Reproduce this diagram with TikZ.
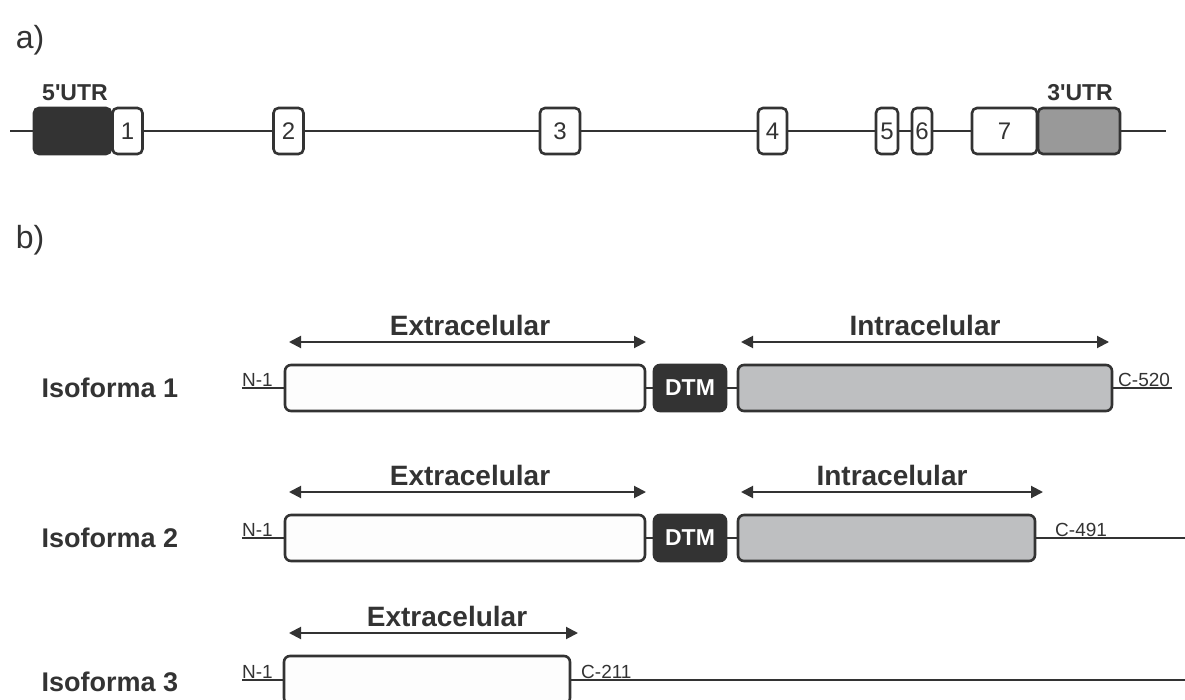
\documentclass[tikz,border=0pt]{standalone}
\usepackage{fontspec}
\setmainfont{Liberation Sans}[Ligatures=TeXOff]
\usetikzlibrary{arrows.meta}
\definecolor{dk}{HTML}{333333}
\definecolor{utrthree}{HTML}{999999}
\definecolor{intra}{HTML}{BEBFC1}
\definecolor{extra}{HTML}{FDFDFD}
\begin{document}
\begin{tikzpicture}[x=1pt,y=-1pt,
  every node/.style={text=dk},
  gline/.style={draw=dk, line width=2pt},
  exon/.style={draw=dk, line width=2.6pt, rounded corners=5pt, fill=white, inner sep=0pt, minimum height=46pt, font=\fontsize{24}{28}\selectfont},
  utrfive/.style={exon, fill=dk},
  utrthreebox/.style={exon, fill=utrthree},
  dom/.style={draw=dk, line width=2.6pt, rounded corners=6pt, inner sep=0pt, minimum height=46pt},
  extbox/.style={dom, fill=extra},
  intbox/.style={dom, fill=intra},
  tmbox/.style={dom, fill=dk, text=white, font=\fontsize{23}{26}\selectfont\bfseries},
  lbl/.style={font=\fontsize{32}{36}\selectfont},
  utrlbl/.style={font=\fontsize{23}{26}\selectfont\bfseries, anchor=base},
  domlbl/.style={font=\fontsize{28}{32}\selectfont\bfseries, anchor=base},
  isolbl/.style={font=\fontsize{27}{30}\selectfont\bfseries, anchor=west},
  endlbl/.style={font=\fontsize{19}{21}\selectfont, anchor=base west, inner sep=0pt},
  span/.style={draw=dk, line width=2pt, {Triangle[length=12pt,width=12pt]}-{Triangle[length=12pt,width=12pt]}}
]
\useasboundingbox (0,0) rectangle (1185,700);
\clip (0,0) rectangle (1185,700);

% ---------- a) ----------
\node[lbl] (la) at (30,40) {a)};
\coordinate (gs) at (10,131);
\coordinate (ge) at (1166,131);
\draw[gline] (gs) -- (ge);
\node[utrfive, minimum width=77pt] (u5) at (72.5,131) {};
\node[exon, minimum width=30pt] (e1) at (127.5,131) {1};
\node[exon, minimum width=30pt] (e2) at (288.5,131) {2};
\node[exon, minimum width=40pt] (e3) at (560,131) {3};
\node[exon, minimum width=29pt] (e4) at (772.5,131) {4};
\node[exon, minimum width=22pt] (e5) at (887,131) {5};
\node[exon, minimum width=20pt] (e6) at (922,131) {6};
\node[exon, minimum width=65pt] (e7) at (1004.5,131) {7};
\node[utrthreebox, minimum width=82pt] (u3) at (1079,131) {};
\node[utrlbl] (l5) at (75,101) {5'UTR};
\node[utrlbl] (l3) at (1080,101) {3'UTR};

% ---------- b) ----------
\node[lbl] (lb) at (30,240) {b)};

% Isoforma 1
\node[isolbl] (i1) at (38,388) {Isoforma 1};
\coordinate (n1s) at (242,388);
\coordinate (c1e) at (1172,388);
\draw[gline] (n1s) -- (c1e);
\node[extbox, minimum width=360pt] (x1) at (465,388) {};
\node[tmbox, minimum width=72pt] (t1) at (690,388) {DTM};
\node[intbox, minimum width=374pt] (n1) at (925,388) {};
\node[endlbl] (nl1) at (242,386) {N-1};
\node[endlbl] (cl1) at (1118,386) {C-520};
\coordinate (ax1a) at (289,342); \coordinate (ax1b) at (646,342);
\draw[span] (ax1a) -- (ax1b);
\node[domlbl] (tx1) at (470,335) {Extracelular};
\coordinate (ai1a) at (741,342); \coordinate (ai1b) at (1109,342);
\draw[span] (ai1a) -- (ai1b);
\node[domlbl] (ti1) at (925,335) {Intracelular};

% Isoforma 2
\node[isolbl] (i2) at (38,538) {Isoforma 2};
\coordinate (n2s) at (242,538);
\coordinate (c2e) at (1190,538);
\draw[gline] (n2s) -- (c2e);
\node[extbox, minimum width=360pt] (x2) at (465,538) {};
\node[tmbox, minimum width=72pt] (t2) at (690,538) {DTM};
\node[intbox, minimum width=297pt] (n2) at (886.5,538) {};
\node[endlbl] (nl2) at (242,536) {N-1};
\node[endlbl] (cl2) at (1055,536) {C-491};
\coordinate (ax2a) at (289,492); \coordinate (ax2b) at (646,492);
\draw[span] (ax2a) -- (ax2b);
\node[domlbl] (tx2) at (470,485) {Extracelular};
\coordinate (ai2a) at (741,492); \coordinate (ai2b) at (1043,492);
\draw[span] (ai2a) -- (ai2b);
\node[domlbl] (ti2) at (892,485) {Intracelular};

% Isoforma 3
\node[isolbl] (i3) at (38,682) {Isoforma 3};
\coordinate (n3s) at (242,680);
\coordinate (c3e) at (1190,680);
\draw[gline] (n3s) -- (c3e);
\node[extbox, minimum width=286pt, minimum height=48pt] (x3) at (427,680) {};
\node[endlbl] (nl3) at (242,678) {N-1};
\node[endlbl] (cl3) at (581,678) {C-211};
\coordinate (ax3a) at (289,633); \coordinate (ax3b) at (578,633);
\draw[span] (ax3a) -- (ax3b);
\node[domlbl] (tx3) at (447,626) {Extracelular};
\end{tikzpicture}
\end{document}
